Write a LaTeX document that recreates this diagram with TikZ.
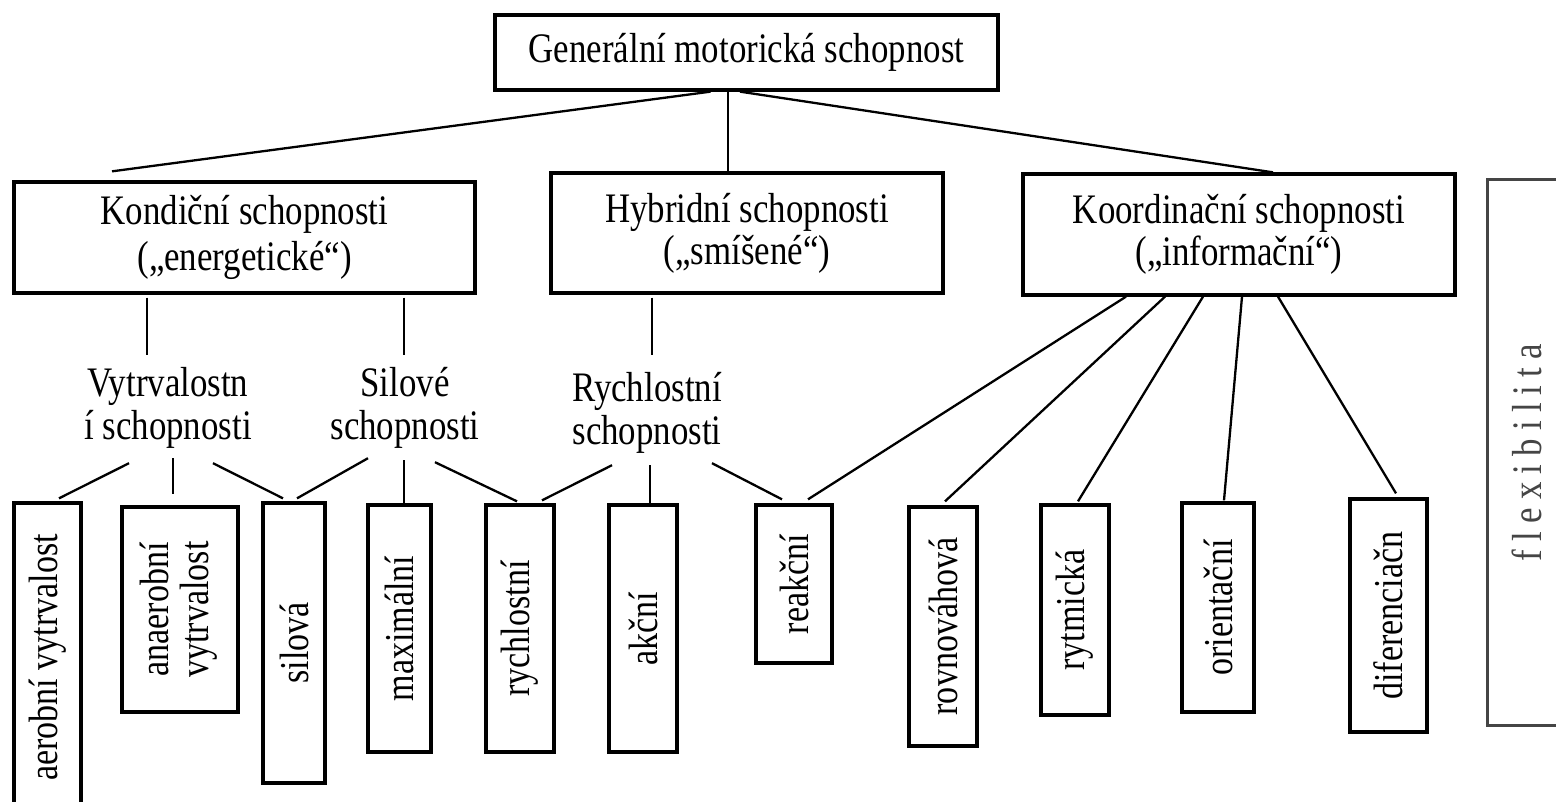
\documentclass[tikz,border=0pt]{standalone}
\usepackage{fontspec}
\setmainfont{Liberation Serif}[FakeStretch=0.83]
\newfontfamily\flexfont{Liberation Serif}[FakeStretch=0.83,LetterSpace=19.5]
\usetikzlibrary{calc}
\definecolor{flexgray}{HTML}{454545}

\begin{document}
\begin{tikzpicture}[
  x=1pt, y=-1pt,
  bx/.style={draw, line width=3.3pt, rectangle, inner sep=0pt, align=center,
             font=\fontsize{42}{42}\selectfont},
  vb/.style={draw, line width=3.3pt, rectangle, inner sep=0pt,
             font=\fontsize{41}{40}\selectfont},
  lb/.style={inner sep=0pt, align=center, minimum height=100pt,
             font=\fontsize{42}{43}\selectfont},
  ln/.style={-, line width=2.3pt},
]
\clip (0,0) rectangle (1556,802);
\node[bx, minimum width=503pt, minimum height=75pt] (gen) at (746.5,52.5) {Generální motorická schopnost};
\node[bx, minimum width=461pt, minimum height=111pt, font=\fontsize{42}{46}\selectfont] (kond) at (244.5,237.5) {Kondiční schopnosti\\(„energetické“)};
\node[bx, minimum width=392pt, minimum height=120pt] (hyb) at (747,233) {Hybridní schopnosti\\(„smíšené“)};
\node[bx, minimum width=432pt, minimum height=121pt] (koord) at (1239,234.5) {Koordinační schopnosti\\(„informační“)};
%% middle level
\node[lb] (vyt) at (168,408) {Vytrvalostn\\í schopnosti};
\node[lb] (sil) at (405,408) {Silové\\schopnosti};
\node[lb] (rych) at (647,413) {Rychlostní\\schopnosti};
%% bottom boxes
\node[vb, minimum width=67pt, minimum height=309pt] (aer) at (47.5,657.5) {\rotatebox{90}{aerobní vytrvalost}};
\node[vb, minimum width=116pt, minimum height=205pt] (ana) at (180,609.5) {\rotatebox{90}{\begin{tabular}{@{}c@{}}anaerobní\\vytrvalost\end{tabular}}};
\node[vb, minimum width=62pt, minimum height=280pt] (silo) at (294,643) {\rotatebox{90}{silová}};
\node[vb, minimum width=63pt, minimum height=247pt] (max) at (399.5,628.5) {\rotatebox{90}{maximální}};
\node[vb, minimum width=68pt, minimum height=247pt] (rychl) at (520,628.5) {\rotatebox{90}{rychlostní}};
\node[vb, minimum width=68pt, minimum height=247pt] (akc) at (643,628.5) {\rotatebox{90}{akční}};
\node[vb, minimum width=76pt, minimum height=158pt] (reak) at (794,584) {\rotatebox{90}{reakční}};
\node[vb, minimum width=68pt, minimum height=239pt] (rovn) at (943,626.5) {\rotatebox{90}{rovnováhová}};
\node[vb, minimum width=68pt, minimum height=210pt] (rytm) at (1075,610) {\rotatebox{90}{rytmická}};
\node[vb, minimum width=72pt, minimum height=209pt] (orie) at (1218,607.5) {\rotatebox{90}{orientační}};
\node[vb, minimum width=77pt, minimum height=233pt] (dife) at (1388.5,615.5) {\rotatebox{90}{diferenciačn}};
\node[draw=flexgray, line width=3pt, minimum width=80pt, minimum height=545pt, inner sep=0pt,
      text=flexgray, font=\fontsize{42}{42}\flexfont] (flex) at (1527,452.5) {\rotatebox{90}{flexibilita}};
%% top connections
\draw[ln] ($(gen.south)+(-36,0)$) -- ($(kond.north)+(-132.5,-9)$);
\draw[ln] ($(gen.south)+(-18.5,0)$) -- ($(hyb.north)+(-19,0)$);
\draw[ln] ($(gen.south)+(-6.5,0)$) -- ($(koord.north)+(34,0)$);
\draw[ln] ($(kond.south)+(-97.5,3)$) -- ($(vyt.north)+(-21,-3)$);
\draw[ln] ($(kond.south)+(159.5,3)$) -- ($(sil.north)+(-1,-3)$);
\draw[ln] ($(hyb.south)+(-95,3)$) -- ($(rych.north)+(5,-8)$);
%% bottom connections
\draw[ln] ($(vyt.south)+(-39,5)$) -- ($(aer.north)+(11.5,-3)$);
\draw[ln] ($(vyt.south)+(5,0)$) -- ($(ana.north)+(-7,-11)$);
\draw[ln] ($(vyt.south)+(45,5)$) -- ($(silo.north)+(-11,-3)$);
\draw[ln] ($(sil.south)+(-37,0)$) -- ($(silo.north)+(3,-3)$);
\draw[ln] ($(sil.south)+(-1,2)$) -- ($(max.north)+(4.5,0)$);
\draw[ln] ($(sil.south)+(30,4)$) -- ($(rychl.north)+(-3,-2)$);
\draw[ln] ($(rych.south)+(-35,2)$) -- ($(rychl.north)+(22,-3)$);
\draw[ln] ($(rych.south)+(3,2)$) -- ($(akc.north)+(7,3)$);
\draw[ln] ($(rych.south)+(65,0)$) -- ($(reak.north)+(-12,-4)$);
\draw[ln] ($(koord.south)+(-113,0)$) -- ($(reak.north)+(14,-4)$);
\draw[ln] ($(koord.south)+(-74,0)$) -- ($(rovn.north)+(2,-4)$);
\draw[ln] ($(koord.south)+(-36,0)$) -- ($(rytm.north)+(3,-2)$);
\draw[ln] ($(koord.south)+(3,0)$) -- ($(orie.north)+(6,-1)$);
\draw[ln] ($(koord.south)+(39,0)$) -- ($(dife.north)+(7.5,-4)$);
\end{tikzpicture}
\end{document}
